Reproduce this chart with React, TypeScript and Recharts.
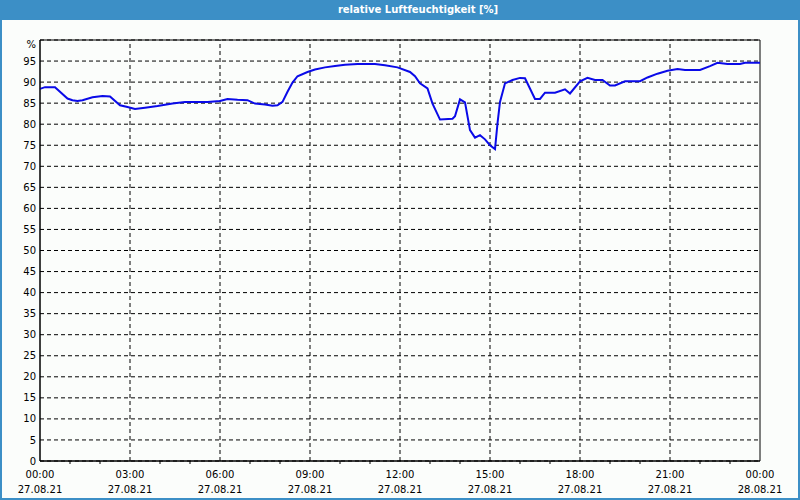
import React from 'react';
import { LineChart, Line, XAxis, YAxis, CartesianGrid, ReferenceLine, ReferenceArea } from 'recharts';

const minutes = [0, 10, 30, 55, 65, 75, 85, 105, 125, 140, 160, 175, 190, 210, 235, 265, 290, 335, 360, 375, 395, 415, 430, 450, 465, 475, 485, 495, 505, 515, 535, 550, 570, 590, 610, 635, 670, 690, 715, 740, 750, 760, 775, 785, 800, 825, 830, 840, 850, 860, 870, 880, 890, 900, 910, 915, 920, 930, 945, 960, 970, 990, 1000, 1010, 1030, 1050, 1060, 1080, 1095, 1110, 1125, 1140, 1150, 1170, 1200, 1215, 1235, 1255, 1275, 1290, 1320, 1340, 1355, 1375, 1400, 1410, 1440];
const humidity = [88.4, 88.8, 88.8, 86.1, 85.7, 85.5, 85.7, 86.4, 86.7, 86.6, 84.5, 84.1, 83.6, 83.9, 84.3, 84.9, 85.3, 85.3, 85.5, 86.0, 85.8, 85.7, 84.9, 84.7, 84.4, 84.5, 85.3, 87.7, 89.9, 91.4, 92.4, 93.0, 93.5, 93.8, 94.1, 94.3, 94.3, 94.0, 93.5, 92.4, 91.4, 89.7, 88.5, 84.9, 81.1, 81.3, 81.9, 85.9, 85.2, 78.6, 76.8, 77.4, 76.4, 75.0, 74.1, 80.2, 85.3, 89.7, 90.5, 91.0, 90.9, 86.0, 86.0, 87.5, 87.5, 88.3, 87.3, 90.2, 91.0, 90.5, 90.5, 89.2, 89.2, 90.2, 90.2, 91.1, 92.0, 92.7, 93.1, 92.9, 92.9, 93.8, 94.6, 94.3, 94.3, 94.6, 94.6];

const hourTicks = [0, 60, 120, 180, 240, 300, 360, 420, 480, 540, 600, 660, 720, 780, 840, 900, 960, 1020, 1080, 1140, 1200, 1260, 1320, 1380, 1440];
const majorTicks = [0, 180, 360, 540, 720, 900, 1080, 1260, 1440];
const timeLabels = ['00:00', '03:00', '06:00', '09:00', '12:00', '15:00', '18:00', '21:00', '00:00'];
const dateLabels = ['27.08.21', '27.08.21', '27.08.21', '27.08.21', '27.08.21', '27.08.21', '27.08.21', '27.08.21', '28.08.21'];
const yTicks = [0, 5, 10, 15, 20, 25, 30, 35, 40, 45, 50, 55, 60, 65, 70, 75, 80, 85, 90, 95];

const data = minutes.map((m, i) => ({ t: m, h: humidity[i] }));

const FONT = '"DejaVu Sans", Verdana, sans-serif';
const BLUE = '#3c8fc6';
const DASH = '4 3';

const XTick = (props: any) => {
  const { x, y, payload } = props;
  const v = payload.value;
  const idx = majorTicks.indexOf(v);
  if (idx >= 0) {
    return (
      <g>
        <text x={x} y={y + 17} textAnchor="middle" fontSize={10} fontFamily={FONT} fill="#000">{timeLabels[idx]}</text>
        <text x={x} y={y + 32} textAnchor="middle" fontSize={10} fontFamily={FONT} fill="#000">{dateLabels[idx]}</text>
      </g>
    );
  }
  return <line x1={x} y1={y} x2={x} y2={y + 3} stroke="#000" strokeWidth={1} />;
};

export default function App() {
  return (
    <div style={{ position: 'absolute', left: 0, top: 0, width: 800, height: 500, background: '#fbfdfb', overflow: 'hidden', fontFamily: FONT }}>
      <div style={{ position: 'absolute', left: 0, top: 0, width: 800, height: 20, background: BLUE }} />
      <div style={{ position: 'absolute', left: 0, top: 0, width: 836, height: 20, lineHeight: '20px', textAlign: 'center', color: '#fff', fontWeight: 'bold', fontSize: 10, fontFamily: FONT }}>
        relative Luftfeuchtigkeit [%]
      </div>
      <div style={{ position: 'absolute', left: 0, top: 20, width: 800, height: 480, boxSizing: 'border-box', borderLeft: `2px solid ${BLUE}`, borderRight: `2px solid ${BLUE}`, borderBottom: `2px solid ${BLUE}` }} />
      <div style={{ position: 'absolute', left: 0, top: 39, width: 36, textAlign: 'right', fontSize: 10, fontFamily: FONT, color: '#000' }}>%</div>
      <div style={{ position: 'absolute', left: 0, top: 0 }}>
        <LineChart width={800} height={500} data={data} margin={{ top: 40, right: 40, bottom: 0, left: 0 }}>
          <CartesianGrid vertical={false} stroke="#000" strokeDasharray={DASH} />
          {majorTicks.slice(1, -1).map((t) => (
            <ReferenceLine key={t} x={t} stroke="#000" strokeDasharray={DASH} />
          ))}
          <ReferenceArea x1={0} x2={1440} y1={0} y2={100} fill="none" stroke="#000" strokeWidth={1} fillOpacity={0} />
          <XAxis
            dataKey="t"
            type="number"
            domain={[0, 1440]}
            ticks={hourTicks}
            interval={0}
            height={39}
            tickSize={0}
            tickMargin={0}
            tickLine={false}
            axisLine={{ stroke: '#000' }}
            tick={<XTick />}
          />
          <YAxis
            type="number"
            domain={[0, 100]}
            ticks={yTicks}
            interval={0}
            width={40}
            tickSize={0}
            tickMargin={4}
            tickLine={false}
            axisLine={{ stroke: '#000' }}
            tick={{ fontSize: 10, fontFamily: FONT, fill: '#000' }}
          />
          <Line type="linear" dataKey="h" stroke="#0a0ae8" strokeWidth={2} dot={false} isAnimationActive={false} />
        </LineChart>
      </div>
    </div>
  );
}
